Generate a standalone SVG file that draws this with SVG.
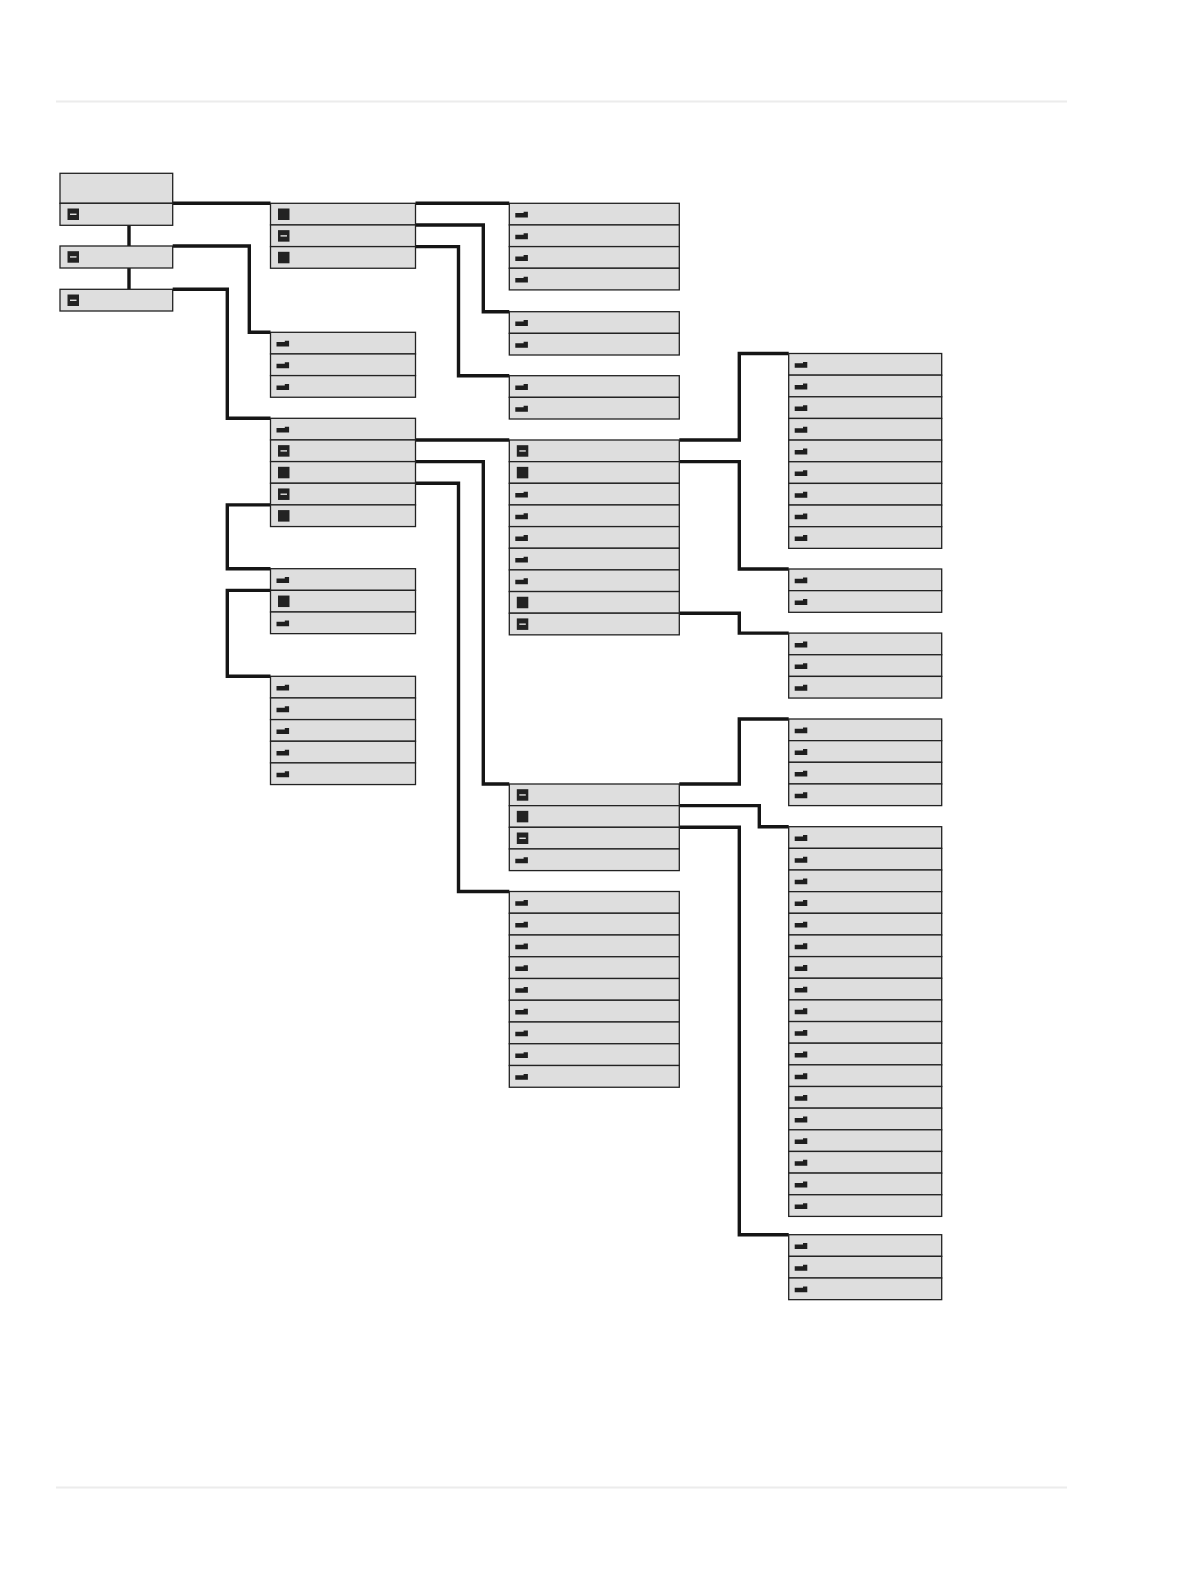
<svg xmlns="http://www.w3.org/2000/svg" width="1191" height="1587" viewBox="0 0 1191 1587">
<style>
.r{fill:#dedede;stroke:#222;stroke-width:1.3}
.c2 .r{width:145px}
.c3 .r{width:170px}
.c4 .r{width:153px}
.c1 .r{width:112.7px}
.cn{fill:none;stroke:#151515;stroke-width:3.4;stroke-linejoin:miter}
.rule{stroke:#ececec;stroke-width:2}
</style>
<defs>
<g id="d"><rect x="7.5" y="5.2" width="11.5" height="11.5" fill="#222"/><line x1="10" y1="10.95" x2="16.5" y2="10.95" stroke="#fff" stroke-width="1.2"/></g>
<rect id="s" x="7.5" y="5.2" width="11.5" height="11.5" fill="#222"/>
<path id="b" d="M6,9.8 H14.3 V8.4 H18.6 V14.3 H6 Z" fill="#1e1e1e"/>
</defs>
<line class="rule" x1="56" y1="101.5" x2="1067" y2="101.5"/>
<line class="rule" x1="56" y1="1487.5" x2="1067" y2="1487.5"/>

<g id="connectors">
<path class="cn" d="M129,225.3 V246 M129,268 V289.3" stroke-width="4"/>
<path class="cn" d="M172.7,203.3 H270.5"/>
<path class="cn" d="M172.7,246 H249.3 V332.3 H270.5"/>
<path class="cn" d="M172.7,289.3 H227.3 V418.3 H270.5"/>
<path class="cn" d="M270.5,504.9 H227.3 V568.7 H270.5"/>
<path class="cn" d="M270.5,590.35 H227.3 V676.3 H270.5"/>
<path class="cn" d="M415.5,203.3 H509.3"/>
<path class="cn" d="M415.5,224.95 H483.3 V311.7 H509.3"/>
<path class="cn" d="M415.5,246.6 H458.5 V375.7 H509.3"/>
<path class="cn" d="M415.5,439.95 H509.3"/>
<path class="cn" d="M415.5,461.6 H483.3 V784 H509.3"/>
<path class="cn" d="M415.5,483.25 H458.5 V891.5 H509.3"/>
<path class="cn" d="M679.3,440 H739.3 V353.5 H788.7"/>
<path class="cn" d="M679.3,461.65 H739.3 V569 H788.7"/>
<path class="cn" d="M679.3,613.2 H739.3 V633.1 H788.7"/>
<path class="cn" d="M679.3,784 H739.3 V719 H788.7"/>
<path class="cn" d="M679.3,805.65 H759.3 V826.7 H788.7"/>
<path class="cn" d="M679.3,827.3 H739.3 V1234.7 H788.7"/>
</g>

<g id="c1-root" class="c1" transform="translate(60,173.3)">
<rect class="r" x="0" y="0" height="30"/>
<rect class="r" x="0" y="30" height="22"/>
<use href="#d" y="30"/>
</g>
<g id="c1-b" class="c1" transform="translate(60,246)">
<rect class="r" x="0" y="0" height="22"/>
<use href="#d" y="0"/>
</g>
<g id="c1-c" class="c1" transform="translate(60,289.3)">
<rect class="r" x="0" y="0" height="21.7"/>
<use href="#d" y="0"/>
</g>

<g id="c2-a" class="c2" transform="translate(270.5,203.3)">
<rect class="r" y="0" height="21.65"/><rect class="r" y="21.65" height="21.65"/><rect class="r" y="43.3" height="21.65"/>
<use href="#s" y="0"/><use href="#d" y="21.65"/><use href="#s" y="43.3"/>
</g>
<g id="c2-b" class="c2" transform="translate(270.5,332.3)">
<rect class="r" y="0" height="21.65"/><rect class="r" y="21.65" height="21.65"/><rect class="r" y="43.3" height="21.65"/>
<use href="#b" y="0"/><use href="#b" y="21.65"/><use href="#b" y="43.3"/>
</g>
<g id="c2-c" class="c2" transform="translate(270.5,418.3)">
<rect class="r" y="0" height="21.65"/><rect class="r" y="21.65" height="21.65"/><rect class="r" y="43.3" height="21.65"/><rect class="r" y="64.95" height="21.65"/><rect class="r" y="86.6" height="21.65"/>
<use href="#b" y="0"/><use href="#d" y="21.65"/><use href="#s" y="43.3"/><use href="#d" y="64.95"/><use href="#s" y="86.6"/>
</g>
<g id="c2-d" class="c2" transform="translate(270.5,568.7)">
<rect class="r" y="0" height="21.65"/><rect class="r" y="21.65" height="21.65"/><rect class="r" y="43.3" height="21.65"/>
<use href="#b" y="0"/><use href="#s" y="21.65"/><use href="#b" y="43.3"/>
</g>
<g id="c2-e" class="c2" transform="translate(270.5,676.3)">
<rect class="r" y="0" height="21.65"/><rect class="r" y="21.65" height="21.65"/><rect class="r" y="43.3" height="21.65"/><rect class="r" y="64.95" height="21.65"/><rect class="r" y="86.6" height="21.65"/>
<use href="#b" y="0"/><use href="#b" y="21.65"/><use href="#b" y="43.3"/><use href="#b" y="64.95"/><use href="#b" y="86.6"/>
</g>

<g id="c3-a" class="c3" transform="translate(509.3,203.3)">
<rect class="r" y="0" height="21.65"/><rect class="r" y="21.65" height="21.65"/><rect class="r" y="43.3" height="21.65"/><rect class="r" y="64.95" height="21.65"/>
<use href="#b" y="0"/><use href="#b" y="21.65"/><use href="#b" y="43.3"/><use href="#b" y="64.95"/>
</g>
<g id="c3-b" class="c3" transform="translate(509.3,311.7)">
<rect class="r" y="0" height="21.65"/><rect class="r" y="21.65" height="21.65"/>
<use href="#b" y="0"/><use href="#b" y="21.65"/>
</g>
<g id="c3-c" class="c3" transform="translate(509.3,375.7)">
<rect class="r" y="0" height="21.65"/><rect class="r" y="21.65" height="21.65"/>
<use href="#b" y="0"/><use href="#b" y="21.65"/>
</g>
<g id="c3-d" class="c3" transform="translate(509.3,440)">
<rect class="r" y="0" height="21.65"/><rect class="r" y="21.65" height="21.65"/><rect class="r" y="43.3" height="21.65"/><rect class="r" y="64.95" height="21.65"/><rect class="r" y="86.6" height="21.65"/><rect class="r" y="108.25" height="21.65"/><rect class="r" y="129.9" height="21.65"/><rect class="r" y="151.55" height="21.65"/><rect class="r" y="173.2" height="21.65"/>
<use href="#d" y="0"/><use href="#s" y="21.65"/><use href="#b" y="43.3"/><use href="#b" y="64.95"/><use href="#b" y="86.6"/><use href="#b" y="108.25"/><use href="#b" y="129.9"/><use href="#s" y="151.55"/><use href="#d" y="173.2"/>
</g>
<g id="c3-e" class="c3" transform="translate(509.3,784)">
<rect class="r" y="0" height="21.65"/><rect class="r" y="21.65" height="21.65"/><rect class="r" y="43.3" height="21.65"/><rect class="r" y="64.95" height="21.65"/>
<use href="#d" y="0"/><use href="#s" y="21.65"/><use href="#d" y="43.3"/><use href="#b" y="64.95"/>
</g>
<g id="c3-f" class="c3" transform="translate(509.3,891.5)">
<rect class="r" y="0" height="21.75"/><rect class="r" y="21.75" height="21.75"/><rect class="r" y="43.5" height="21.75"/><rect class="r" y="65.25" height="21.75"/><rect class="r" y="87" height="21.75"/><rect class="r" y="108.75" height="21.75"/><rect class="r" y="130.5" height="21.75"/><rect class="r" y="152.25" height="21.75"/><rect class="r" y="174" height="21.75"/>
<use href="#b" y="0"/><use href="#b" y="21.75"/><use href="#b" y="43.5"/><use href="#b" y="65.25"/><use href="#b" y="87"/><use href="#b" y="108.75"/><use href="#b" y="130.5"/><use href="#b" y="152.25"/><use href="#b" y="174"/>
</g>

<g id="c4-a" class="c4" transform="translate(788.7,353.5)">
<rect class="r" y="0" height="21.65"/><rect class="r" y="21.65" height="21.65"/><rect class="r" y="43.3" height="21.65"/><rect class="r" y="64.95" height="21.65"/><rect class="r" y="86.6" height="21.65"/><rect class="r" y="108.25" height="21.65"/><rect class="r" y="129.9" height="21.65"/><rect class="r" y="151.55" height="21.65"/><rect class="r" y="173.2" height="21.65"/>
<use href="#b" y="0"/><use href="#b" y="21.65"/><use href="#b" y="43.3"/><use href="#b" y="64.95"/><use href="#b" y="86.6"/><use href="#b" y="108.25"/><use href="#b" y="129.9"/><use href="#b" y="151.55"/><use href="#b" y="173.2"/>
</g>
<g id="c4-b" class="c4" transform="translate(788.7,569)">
<rect class="r" y="0" height="21.65"/><rect class="r" y="21.65" height="21.65"/>
<use href="#b" y="0"/><use href="#b" y="21.65"/>
</g>
<g id="c4-c" class="c4" transform="translate(788.7,633.1)">
<rect class="r" y="0" height="21.65"/><rect class="r" y="21.65" height="21.65"/><rect class="r" y="43.3" height="21.65"/>
<use href="#b" y="0"/><use href="#b" y="21.65"/><use href="#b" y="43.3"/>
</g>
<g id="c4-d" class="c4" transform="translate(788.7,719)">
<rect class="r" y="0" height="21.65"/><rect class="r" y="21.65" height="21.65"/><rect class="r" y="43.3" height="21.65"/><rect class="r" y="64.95" height="21.65"/>
<use href="#b" y="0"/><use href="#b" y="21.65"/><use href="#b" y="43.3"/><use href="#b" y="64.95"/>
</g>
<g id="c4-e" class="c4" transform="translate(788.7,826.7)">
<rect class="r" y="0" height="21.65"/><rect class="r" y="21.65" height="21.65"/><rect class="r" y="43.3" height="21.65"/><rect class="r" y="64.95" height="21.65"/><rect class="r" y="86.6" height="21.65"/><rect class="r" y="108.25" height="21.65"/><rect class="r" y="129.9" height="21.65"/><rect class="r" y="151.55" height="21.65"/><rect class="r" y="173.2" height="21.65"/><rect class="r" y="194.85" height="21.65"/><rect class="r" y="216.5" height="21.65"/><rect class="r" y="238.15" height="21.65"/><rect class="r" y="259.8" height="21.65"/><rect class="r" y="281.45" height="21.65"/><rect class="r" y="303.1" height="21.65"/><rect class="r" y="324.75" height="21.65"/><rect class="r" y="346.4" height="21.65"/><rect class="r" y="368.05" height="21.65"/>
<use href="#b" y="0"/><use href="#b" y="21.65"/><use href="#b" y="43.3"/><use href="#b" y="64.95"/><use href="#b" y="86.6"/><use href="#b" y="108.25"/><use href="#b" y="129.9"/><use href="#b" y="151.55"/><use href="#b" y="173.2"/><use href="#b" y="194.85"/><use href="#b" y="216.5"/><use href="#b" y="238.15"/><use href="#b" y="259.8"/><use href="#b" y="281.45"/><use href="#b" y="303.1"/><use href="#b" y="324.75"/><use href="#b" y="346.4"/><use href="#b" y="368.05"/>
</g>
<g id="c4-f" class="c4" transform="translate(788.7,1234.7)">
<rect class="r" y="0" height="21.65"/><rect class="r" y="21.65" height="21.65"/><rect class="r" y="43.3" height="21.65"/>
<use href="#b" y="0"/><use href="#b" y="21.65"/><use href="#b" y="43.3"/>
</g>
</svg>
